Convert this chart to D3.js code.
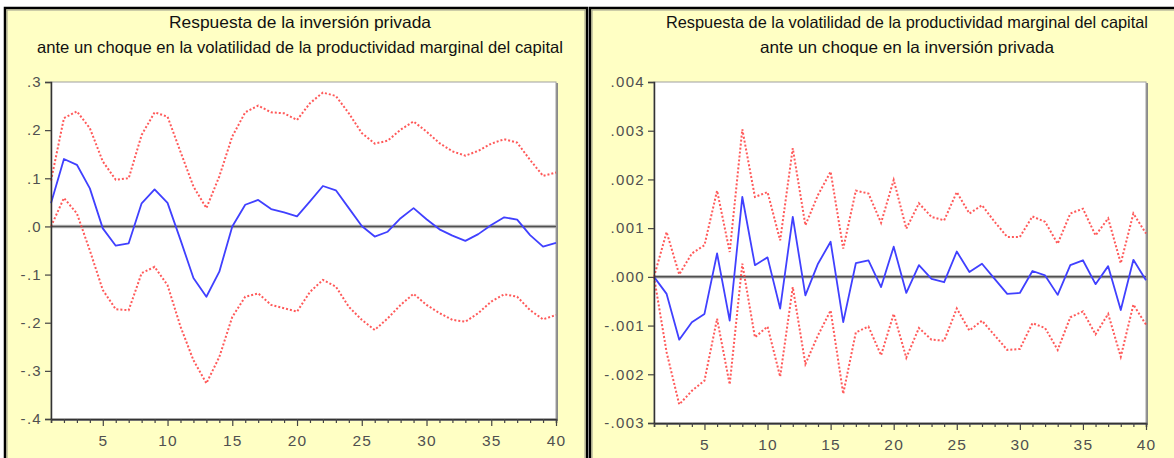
<!DOCTYPE html>
<html>
<head>
<meta charset="utf-8">
<script src="https://cdn.jsdelivr.net/npm/d3@7"></script>
<style>
html,body{margin:0;padding:0;background:#fff;}
svg{display:block;}
</style>
</head>
<body>
<script>
// ---------- DATA ----------
const periods = d3.range(1, 41);

const leftTitle = ["Respuesta de la inversión privada",
  "ante un choque en la volatilidad de la productividad marginal del capital"];
const rightTitle = ["Respuesta de la volatilidad de la productividad marginal del capital",
  "ante un choque en la inversión privada"];

const leftYTicks = [0.3, 0.2, 0.1, 0.0, -0.1, -0.2, -0.3, -0.4];
const leftYLabels = [".3", ".2", ".1", ".0", "-.1", "-.2", "-.3", "-.4"];
const rightYTicks = [0.004, 0.003, 0.002, 0.001, 0.0, -0.001, -0.002, -0.003];
const rightYLabels = [".004", ".003", ".002", ".001", ".000", "-.001", "-.002", "-.003"];
const xTickLabels = ["5", "10", "15", "20", "25", "30", "35", "40"];

const leftResp = [0.048,0.140,0.128,0.079,-0.004,-0.040,-0.035,0.048,0.077,0.049,
  -0.028,-0.107,-0.146,-0.094,0.000,0.045,0.055,0.036,0.029,0.021,
  0.052,0.084,0.075,0.038,0.001,-0.021,-0.011,0.017,0.038,0.015,
  -0.006,-0.019,-0.030,-0.016,0.003,0.019,0.014,-0.018,-0.042,-0.034];
const leftUpper = [0.095,0.225,0.239,0.204,0.135,0.097,0.100,0.190,0.237,0.228,
  0.155,0.083,0.038,0.104,0.187,0.237,0.251,0.237,0.235,0.221,
  0.256,0.278,0.271,0.235,0.194,0.172,0.178,0.201,0.218,0.197,
  0.173,0.156,0.147,0.157,0.172,0.181,0.174,0.138,0.105,0.112];
const leftLower = [0.000,0.059,0.027,-0.050,-0.132,-0.172,-0.174,-0.097,-0.084,-0.122,
  -0.208,-0.278,-0.326,-0.271,-0.188,-0.146,-0.139,-0.163,-0.170,-0.177,
  -0.136,-0.111,-0.125,-0.167,-0.194,-0.215,-0.191,-0.163,-0.140,-0.163,
  -0.180,-0.194,-0.198,-0.180,-0.156,-0.141,-0.146,-0.174,-0.193,-0.184];

const rightResp = [0.00000,-0.00035,-0.00129,-0.00093,-0.00076,0.00048,-0.00090,0.00164,0.00024,0.00040,
  -0.00065,0.00123,-0.00038,0.00027,0.00072,-0.00093,0.00028,0.00034,-0.00021,0.00062,
  -0.00033,0.00024,-0.00004,-0.00011,0.00052,0.00010,0.00027,-0.00004,-0.00035,-0.00033,
  0.00012,0.00003,-0.00037,0.00024,0.00034,-0.00015,0.00022,-0.00068,0.00035,-0.00007];
const rightUpper = [0.00000,0.00092,0.00005,0.00048,0.00065,0.00177,0.00051,0.00303,0.00164,0.00174,
  0.00075,0.00264,0.00106,0.00168,0.00216,0.00058,0.00177,0.00171,0.00111,0.00199,
  0.00099,0.00151,0.00123,0.00116,0.00174,0.00130,0.00147,0.00113,0.00082,0.00082,
  0.00124,0.00113,0.00068,0.00130,0.00140,0.00085,0.00120,0.00028,0.00130,0.00089];
const rightLower = [0.00000,-0.00155,-0.00262,-0.00234,-0.00213,-0.00086,-0.00221,0.00027,-0.00124,-0.00102,
  -0.00205,-0.00021,-0.00179,-0.00120,-0.00069,-0.00240,-0.00114,-0.00102,-0.00161,-0.00076,
  -0.00166,-0.00105,-0.00129,-0.00131,-0.00065,-0.00110,-0.00090,-0.00120,-0.00150,-0.00148,
  -0.00095,-0.00105,-0.00150,-0.00083,-0.00071,-0.00118,-0.00076,-0.00164,-0.00057,-0.00098];

// ---------- DRAW ----------
const W = 1174, H = 458;
const svg = d3.select("body").append("svg").attr("width", W).attr("height", H);

const BG = "#FFFFC4";
const BLUE = "#4040ff";
const RED = "#ff3c3c";

function panel(cfg) {
  const g = svg.append("g");
  g.append("rect").attr("x", cfg.px0).attr("y", cfg.py0)
    .attr("width", cfg.px1 - cfg.px0).attr("height", cfg.py1 - cfg.py0)
    .attr("fill", BG).attr("stroke", "#000").attr("stroke-width", 2.5);
  g.append("rect").attr("x", cfg.px0 + 2).attr("y", cfg.py0 + 2)
    .attr("width", cfg.px1 - cfg.px0 - 4).attr("height", cfg.py1 - cfg.py0 - 4)
    .attr("fill", "none").attr("stroke", "#9a9a8a").attr("stroke-width", 1);

  cfg.title.forEach((t, i) => {
    g.append("text").attr("x", cfg.tx).attr("y", cfg.ty[i])
      .attr("text-anchor", "middle")
      .attr("font-family", "'Liberation Sans Narrow','Arial Narrow','Liberation Sans',sans-serif")
      .attr("font-size", 16.5)
      .attr("fill", "#111")
      .attr("textLength", cfg.tw[i]).attr("lengthAdjust", "spacingAndGlyphs")
      .text(t);
  });

  const x = d3.scaleLinear().domain([1, 40]).range([cfg.x0, cfg.x1]);
  const y = d3.scaleLinear().domain(cfg.ydom).range([cfg.y1, cfg.y0]);

  g.append("rect").attr("x", cfg.x0 + 1).attr("y", cfg.y0 + 1)
    .attr("width", cfg.x1 - cfg.x0 + 1).attr("height", cfg.y1 - cfg.y0 + 1)
    .attr("fill", "#8a8a8a");
  g.append("rect").attr("x", cfg.x0).attr("y", cfg.y0)
    .attr("width", cfg.x1 - cfg.x0).attr("height", cfg.y1 - cfg.y0)
    .attr("fill", "#fff").attr("stroke", "#a0a0a0").attr("stroke-width", 1);

  g.append("line").attr("x1", cfg.x0).attr("x2", cfg.x1)
    .attr("y1", y(0)).attr("y2", y(0))
    .attr("stroke", "#bdbdbd").attr("stroke-width", 3.5);
  g.append("line").attr("x1", cfg.x0).attr("x2", cfg.x1)
    .attr("y1", y(0)).attr("y2", y(0))
    .attr("stroke", "#505050").attr("stroke-width", 1.5);

  const line = d3.line().x((d, i) => x(periods[i])).y(d => y(d));

  [cfg.upper, cfg.lower].forEach(s => {
    g.append("path").datum(s).attr("d", line)
      .attr("fill", "none").attr("stroke", RED).attr("stroke-width", 2)
      .attr("stroke-dasharray", "2,2").attr("stroke-opacity", 0.85);
  });
  g.append("path").datum(cfg.resp).attr("d", line)
    .attr("fill", "none").attr("stroke", BLUE).attr("stroke-width", 1.8)
    .attr("stroke-linejoin", "round");

  const yAxis = d3.axisLeft(y).tickValues(cfg.yticks)
    .tickFormat((d, i) => cfg.ylabels[i]).tickSize(6).tickPadding(3);
  const ya = g.append("g").attr("transform", `translate(${cfg.x0},0)`).call(yAxis);
  ya.select(".domain").attr("stroke", "#333").attr("stroke-width", 1.5);
  ya.selectAll(".tick line").attr("stroke", "#444").attr("stroke-width", 1.2);
  ya.selectAll(".tick text").attr("fill", "#505050")
    .attr("font-family", "'Liberation Sans',Arial,sans-serif")
    .attr("font-size", 15).attr("letter-spacing", "1.3px");

  const xAxis = d3.axisBottom(x).tickValues(periods)
    .tickFormat(d => (d % 5 === 0 ? xTickLabels[d / 5 - 1] : ""))
    .tickSize(4).tickPadding(6);
  const xa = g.append("g").attr("transform", `translate(0,${cfg.y1})`).call(xAxis);
  xa.select(".domain").attr("stroke", "#333").attr("stroke-width", 1.5);
  xa.selectAll(".tick line").attr("stroke", "#444").attr("stroke-width", 1.2)
    .attr("y2", d => (d % 5 === 0 ? 7 : 4));
  xa.selectAll(".tick text").attr("fill", "#505050")
    .attr("font-family", "'Liberation Sans',Arial,sans-serif")
    .attr("font-size", 15.5).attr("letter-spacing", "1.2px")
    .attr("y", 16);
}

panel({
  px0: 5, px1: 587, py0: 8, py1: 475,
  tx: 300, ty: [28, 53], tw: [262, 526], title: leftTitle,
  x0: 51, x1: 556, y0: 82, y1: 419,
  ydom: [-0.4, 0.3], yticks: leftYTicks, ylabels: leftYLabels,
  resp: leftResp, upper: leftUpper, lower: leftLower
});

panel({
  px0: 590, px1: 1200, py0: 8, py1: 475,
  tx: 907, ty: [28, 53], tw: [482, 294], title: rightTitle,
  x0: 654, x1: 1146, y0: 82, y1: 423,
  ydom: [-0.003, 0.004], yticks: rightYTicks, ylabels: rightYLabels,
  resp: rightResp, upper: rightUpper, lower: rightLower
});
</script>
</body>
</html>
